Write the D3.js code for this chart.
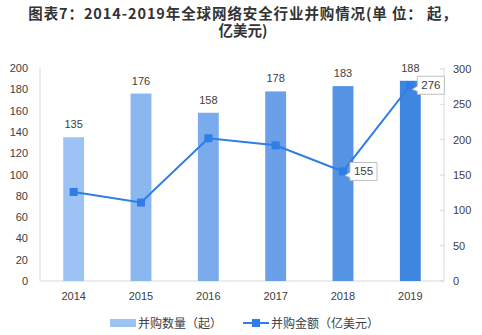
<!DOCTYPE html>
<html><head><meta charset="utf-8">
<script src="https://cdn.jsdelivr.net/npm/d3@7"></script>
<style>body{margin:0;background:#fff;} svg{display:block;}</style>
</head><body><svg id="c" width="482" height="335"></svg>
<script>
const years = ["2014","2015","2016","2017","2018","2019"];
const dealCounts = [135,176,158,178,183,188];
const dealAmounts = [126,111,202,192,155,277];
const amountLabels = ["","","","","155","276"];
const leftTicks = [0,20,40,60,80,100,120,140,160,180,200];
const rightTicks = [0,50,100,150,200,250,300];
const barColors = ["#9dc3f5","#8bb7f1","#7aaced","#69a0e9","#5594e5","#3f86e0"];
const titleLines = ["图表7：2014-2019年全球网络安全行业并购情况(单 位： 起，","亿美元)"];
const legendNames = ["并购数量（起）","并购金额（亿美元）"];

const svg = d3.select("#c");
const L = 40, R = 444, T = 68, B = 281;
const x = d3.scaleBand().domain(years).range([L,R]).paddingInner(0.69).paddingOuter(0.345);
const yL = d3.scaleLinear().domain([0,200]).range([B,T]);
const yR = d3.scaleLinear().domain([0,300]).range([B,T+1]);
const numFont = "'Liberation Sans', Arial, sans-serif";
const cjk = "'Noto Sans CJK SC', sans-serif";

// title
svg.append("g").selectAll("text").data(titleLines).join("text")
  .attr("x",243).attr("y",(d,i)=>19+i*16.5).attr("text-anchor","middle")
  .attr("font-family",cjk).attr("font-weight","bold").attr("font-size",14.5)
  .attr("letter-spacing",(d,i)=>i===0?0.9:0).attr("fill","#333")
  .text(d=>d);

// axes lines
svg.append("line").attr("x1",L).attr("x2",L).attr("y1",T).attr("y2",B).attr("stroke","#d9d9d9");
svg.append("line").attr("x1",R).attr("x2",R).attr("y1",T).attr("y2",B).attr("stroke","#d9d9d9");
svg.append("line").attr("x1",L).attr("x2",R).attr("y1",B).attr("y2",B).attr("stroke","#d9d9d9");

// left ticks
svg.append("g").selectAll("text").data(leftTicks).join("text")
  .attr("x",28).attr("y",d=>yL(d)+4).attr("text-anchor","end")
  .attr("font-family",numFont).attr("font-size",11).attr("fill","#404040").text(d=>d);
// right ticks
const rt = svg.append("g");
rt.selectAll("line").data(rightTicks).join("line")
  .attr("x1",R-4).attr("x2",R).attr("y1",d=>yR(d)).attr("y2",d=>yR(d)).attr("stroke","#d9d9d9");
rt.selectAll("text").data(rightTicks).join("text")
  .attr("x",453).attr("y",d=>yR(d)+4).attr("text-anchor","start")
  .attr("font-family",numFont).attr("font-size",11).attr("fill","#404040").text(d=>d);

// bars
svg.append("g").selectAll("rect").data(years).join("rect")
  .attr("x",d=>x(d)).attr("width",x.bandwidth())
  .attr("y",(d,i)=>yL(dealCounts[i])).attr("height",(d,i)=>B-yL(dealCounts[i]))
  .attr("fill",(d,i)=>barColors[i]);
svg.append("g").selectAll("text").data(years).join("text")
  .attr("x",d=>x(d)+x.bandwidth()/2).attr("y",(d,i)=>yL(dealCounts[i])-9)
  .attr("text-anchor","middle").attr("font-family",numFont).attr("font-size",11).attr("fill","#404040")
  .text((d,i)=>dealCounts[i]);

// x labels
svg.append("g").selectAll("text").data(years).join("text")
  .attr("x",d=>x(d)+x.bandwidth()/2).attr("y",300).attr("text-anchor","middle")
  .attr("font-family",numFont).attr("font-size",11).attr("fill","#404040").text(d=>d);

// line
const cx = d=>x(d)+x.bandwidth()/2;
const line = d3.line().x((d,i)=>cx(years[i])).y(d=>yR(d));
svg.append("path").datum(dealAmounts).attr("d",line).attr("fill","none")
  .attr("stroke","#2f7de6").attr("stroke-width",2);
svg.append("g").selectAll("rect").data(dealAmounts).join("rect")
  .attr("x",(d,i)=>cx(years[i])-4).attr("y",d=>yR(d)-4).attr("width",8).attr("height",8)
  .attr("fill","#2f7de6");

// callouts
const co = svg.append("g");
dealAmounts.forEach((v,i)=>{
  if(!amountLabels[i]) return;
  const px = cx(years[i]), py = yR(v);
  const bx = px+7, bh = 18, by = py-9, bw = 27;
  co.append("path")
    .attr("d",`M${bx},${by} H${bx+bw} V${by+bh} H${bx} V${by+bh-3} L${px+2},${py+4} L${bx},${by+bh-8} Z`)
    .attr("fill","#fff").attr("stroke","#bfbfbf").attr("stroke-width",1);
  co.append("text").attr("x",bx+bw/2).attr("y",by+bh-5).attr("text-anchor","middle")
    .attr("font-family",numFont).attr("font-size",11.5).attr("fill","#404040").text(amountLabels[i]);
});

// legend
const lg = svg.append("g");
lg.append("rect").attr("x",110).attr("y",319).attr("width",26).attr("height",8).attr("fill","#9dc3f5");
lg.append("text").attr("x",138).attr("y",327.5).attr("font-family",cjk).attr("font-size",12).attr("fill","#404040").text(legendNames[0]);
lg.append("line").attr("x1",243).attr("x2",269).attr("y1",323).attr("y2",323).attr("stroke","#2f7de6").attr("stroke-width",2);
lg.append("rect").attr("x",252).attr("y",319).attr("width",8).attr("height",8).attr("fill","#2f7de6");
lg.append("text").attr("x",271).attr("y",327.5).attr("font-family",cjk).attr("font-size",12).attr("fill","#404040").text(legendNames[1]);
</script></body></html>
